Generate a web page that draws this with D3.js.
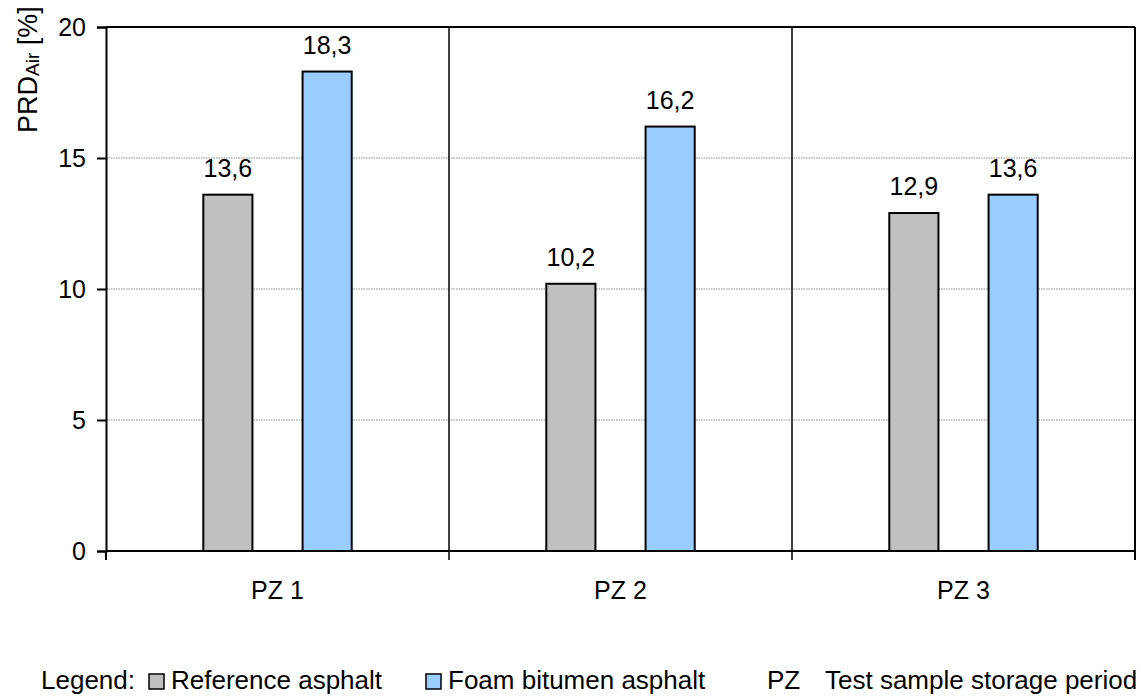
<!DOCTYPE html>
<html>
<head>
<meta charset="utf-8">
<script src="https://cdn.jsdelivr.net/npm/d3@7"></script>
<style>
  html, body { margin: 0; padding: 0; background: #fff; }
  svg text { font-family: Arial, "Liberation Sans", sans-serif; fill: #000; }
</style>
</head>
<body>
<svg id="chart" width="1141" height="697"></svg>
<script>
// Storage periods and measured PRD values per asphalt type
const categories = ["PZ 1", "PZ 2", "PZ 3"];
const seriesNames = ["Reference asphalt", "Foam bitumen asphalt"];
const referenceValues = [13.6, 10.2, 12.9];
const foamValues = [18.3, 16.2, 13.6];
const yTicks = [0, 5, 10, 15, 20];
const seriesColors = ["#c0c0c0", "#99ccff"];

const svg = d3.select("#chart");
const plot = { left: 106, right: 1135, top: 27, bottom: 551 };

const fontSize = 25;
const deLocale = d3.formatLocale({ decimal: ",", thousands: ".", grouping: [3], currency: ["", " €"] });
const fmt = deLocale.format(".1f");

const x0 = d3.scaleBand().domain(categories).range([plot.left, plot.right]).paddingInner(0).paddingOuter(0);
const x1 = d3.scaleBand().domain(seriesNames).range([0, x0.bandwidth()]).paddingInner(0.505).paddingOuter(0.98);
const y = d3.scaleLinear().domain([0, 20]).range([plot.bottom, plot.top]);

const rows = categories.map((c, i) => ({
  category: c,
  values: [
    { series: seriesNames[0], value: referenceValues[i], color: seriesColors[0] },
    { series: seriesNames[1], value: foamValues[i], color: seriesColors[1] }
  ]
}));

// dotted horizontal gridlines
svg.append("g")
  .selectAll("line")
  .data(yTicks.filter(t => t > 0 && t < 20))
  .join("line")
  .attr("x1", plot.left).attr("x2", plot.right)
  .attr("y1", d => y(d)).attr("y2", d => y(d))
  .attr("stroke", "#8c8c8c")
  .attr("stroke-width", 1)
  .attr("stroke-dasharray", "1.5,1");

// category separators
svg.append("g")
  .selectAll("line")
  .data(categories.slice(1))
  .join("line")
  .attr("x1", d => x0(d)).attr("x2", d => x0(d))
  .attr("y1", plot.top).attr("y2", plot.bottom + 9)
  .attr("stroke", "#000")
  .attr("stroke-width", 1.5);

// bars
const groups = svg.append("g")
  .selectAll("g")
  .data(rows)
  .join("g")
  .attr("transform", d => `translate(${x0(d.category)},0)`);

groups.selectAll("rect")
  .data(d => d.values)
  .join("rect")
  .attr("x", d => x1(d.series))
  .attr("width", x1.bandwidth())
  .attr("y", d => y(d.value))
  .attr("height", d => y(0) - y(d.value))
  .attr("fill", d => d.color)
  .attr("stroke", "#000")
  .attr("stroke-width", 2);

groups.selectAll("text")
  .data(d => d.values)
  .join("text")
  .attr("x", d => x1(d.series) + x1.bandwidth() / 2)
  .attr("y", d => y(d.value) - 18)
  .attr("text-anchor", "middle")
  .attr("font-size", fontSize)
  .text(d => fmt(d.value));

// plot frame: top and right border
svg.append("line")
  .attr("x1", plot.left).attr("x2", plot.right)
  .attr("y1", plot.top).attr("y2", plot.top)
  .attr("stroke", "#000").attr("stroke-width", 2);
svg.append("line")
  .attr("x1", plot.right).attr("x2", plot.right)
  .attr("y1", plot.top).attr("y2", plot.bottom + 9)
  .attr("stroke", "#000").attr("stroke-width", 2);

// y axis
const yAxis = svg.append("g")
  .attr("transform", `translate(${plot.left},0)`)
  .call(d3.axisLeft(y).tickValues(yTicks).tickSize(9).tickPadding(11).tickFormat(d3.format("d")));
yAxis.select(".domain").attr("stroke", "#000").attr("stroke-width", 2);
yAxis.selectAll(".tick line").attr("stroke", "#000").attr("stroke-width", 2);
yAxis.selectAll(".tick text").attr("font-size", fontSize).attr("font-family", "Arial, 'Liberation Sans', sans-serif").attr("fill", "#000");

// x axis with ticks at category boundaries
const xAxis = svg.append("g")
  .attr("transform", `translate(0,${plot.bottom})`);
xAxis.append("line")
  .attr("x1", plot.left).attr("x2", plot.right)
  .attr("stroke", "#000").attr("stroke-width", 2);
xAxis.append("line")
  .attr("x1", plot.left).attr("x2", plot.left)
  .attr("y1", 0).attr("y2", 9)
  .attr("stroke", "#000").attr("stroke-width", 2);
xAxis.selectAll("text")
  .data(categories)
  .join("text")
  .attr("x", d => x0(d) + x0.bandwidth() / 2)
  .attr("y", 48)
  .attr("text-anchor", "middle")
  .attr("font-size", fontSize)
  .text(d => d);

// y axis title with subscript
const yTitle = svg.append("text")
  .attr("transform", "translate(37,133) rotate(-90)")
  .attr("text-anchor", "start")
  .attr("font-size", 27);
yTitle.append("tspan").text("PRD");
yTitle.append("tspan").attr("font-size", 19).attr("dy", 2).text("Air");
yTitle.append("tspan").attr("dy", -2).text(" [%]");

// legend
const legend = svg.append("g").attr("font-size", 26);
const legendBaseline = 689;
legend.append("text").attr("x", 41).attr("y", legendBaseline).text("Legend:");
const legendItems = [
  { name: seriesNames[0], color: seriesColors[0], box: 149, text: 171 },
  { name: seriesNames[1], color: seriesColors[1], box: 426, text: 448 }
];
legend.selectAll("rect")
  .data(legendItems)
  .join("rect")
  .attr("x", d => d.box)
  .attr("y", legendBaseline - 15)
  .attr("width", 15).attr("height", 15)
  .attr("fill", d => d.color)
  .attr("stroke", "#000").attr("stroke-width", 1.5);
legend.selectAll("text.item")
  .data(legendItems)
  .join("text")
  .attr("class", "item")
  .attr("x", d => d.text)
  .attr("y", legendBaseline)
  .text(d => d.name);
legend.append("text").attr("x", 767).attr("y", legendBaseline).text("PZ");
legend.append("text").attr("x", 825).attr("y", legendBaseline).text("Test sample storage period");
</script>
</body>
</html>
